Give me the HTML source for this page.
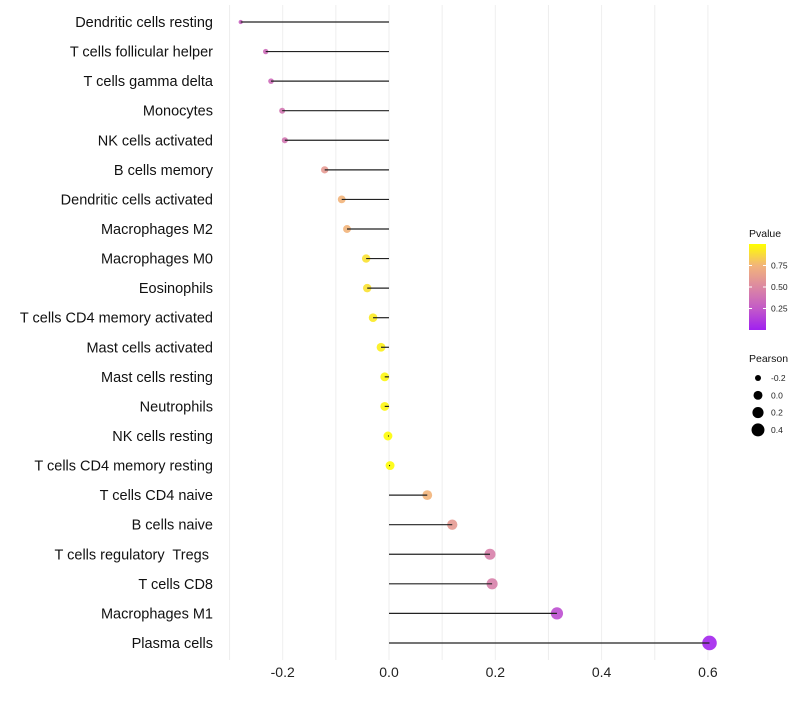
<!DOCTYPE html>
<html><head><meta charset="utf-8"><style>
body{margin:0;background:#fff;font-family:"Liberation Sans",sans-serif}
svg text{font-family:"Liberation Sans",sans-serif;white-space:pre}
</style></head><body>
<svg id="c" width="800" height="700">
<defs><linearGradient id="pg" x1="0" y1="1" x2="0" y2="0">
<stop offset="0" stop-color="#A020F0"/><stop offset="0.25" stop-color="#C35AC8"/><stop offset="0.5" stop-color="#DC88A2"/><stop offset="0.75" stop-color="#F2B47A"/><stop offset="1" stop-color="#FFFF00"/></linearGradient></defs>
</svg>
<script>
const categories=["Dendritic cells resting","T cells follicular helper","T cells gamma delta","Monocytes","NK cells activated","B cells memory","Dendritic cells activated","Macrophages M2","Macrophages M0","Eosinophils","T cells CD4 memory activated","Mast cells activated","Mast cells resting","Neutrophils","NK cells resting","T cells CD4 memory resting","T cells CD4 naive","B cells naive","T cells regulatory  Tregs ","T cells CD8","Macrophages M1","Plasma cells"];
const pearson=[-0.279,-0.232,-0.222,-0.201,-0.196,-0.121,-0.089,-0.079,-0.043,-0.041,-0.030,-0.015,-0.008,-0.008,-0.002,0.002,0.072,0.119,0.190,0.194,0.316,0.603];
const pvalue=[0.3,0.35,0.35,0.4,0.4,0.6,0.75,0.75,0.9,0.9,0.93,0.95,0.97,0.97,0.99,0.99,0.75,0.6,0.45,0.45,0.2,0.02];
const xTicks=[-0.2,0,0.2,0.4,0.6];
const xTickLabels=["-0.2","0.0","0.2","0.4","0.6"];
const gridVals=[-0.3,-0.2,-0.1,0,0.1,0.2,0.3,0.4,0.5,0.6];
const legendP=[0.25,0.5,0.75];
const legendPearson=[-0.2,0,0.2,0.4];
const svg=document.getElementById('c');const NS="http://www.w3.org/2000/svg";
function mk(t,a,p){const e=document.createElementNS(NS,t);for(const k in a)e.setAttribute(k,a[k]);(p||svg).appendChild(e);return e;}
const X=v=>389+v*531.5;
const Y=i=>22+i*29.57;
const R=v=>Math.sqrt(Math.max(2,20+55*v));
const stops=[[0,[160,32,240]],[0.25,[195,90,200]],[0.5,[220,136,162]],[0.75,[242,180,122]],[1,[255,255,0]]];
function col(p){for(let i=1;i<stops.length;i++){if(p<=stops[i][0]){const a=stops[i-1],b=stops[i],t=(p-a[0])/(b[0]-a[0]);return 'rgb('+a[1].map((c,j)=>Math.round(c+(b[1][j]-c)*t)).join(',')+')';}}return 'rgb(255,255,0)';}
gridVals.forEach(v=>{const g=mk('line',{x1:X(v),x2:X(v),y1:5,y2:660,stroke:'#eeeeee','stroke-width':1});

});
xTicks.forEach((v,i)=>{const t=mk('text',{x:X(v),y:677,'text-anchor':'middle','font-size':14,fill:'#222'});t.textContent=xTickLabels[i];

});
categories.forEach((c,i)=>{
const t=mk('text',{x:213,y:Y(i)+5,'text-anchor':'end','font-size':14.5,fill:'#111'});t.textContent=c;


const p=mk('circle',{cx:X(pearson[i]),cy:Y(i),r:R(pearson[i]),fill:col(pvalue[i]),'fill-opacity':0.9});


const s=mk('line',{x1:X(0),x2:X(pearson[i]),y1:Y(i),y2:Y(i),stroke:'#222','stroke-width':1.2});


});
const lt=mk('text',{x:749,y:237,'font-size':10.5,fill:'#111'});lt.textContent='Pvalue';


const bar=mk('rect',{x:749,y:244,width:17,height:86,fill:'url(#pg)'});


legendP.forEach(v=>{const y=330-v*86;
mk('line',{x1:749,x2:752,y1:y,y2:y,stroke:'#fff'});mk('line',{x1:763,x2:766,y1:y,y2:y,stroke:'#fff'});
const t=mk('text',{x:771,y:y+3,'font-size':8.5,fill:'#222'});t.textContent=v.toFixed(2);

});
const lt2=mk('text',{x:749,y:362,'font-size':10.5,fill:'#111'});lt2.textContent='Pearson';


legendPearson.forEach((v,i)=>{const y=378+i*17.3;
const c=mk('circle',{cx:758,cy:y,r:R(v),fill:'#000'});


const t=mk('text',{x:771,y:y+3,'font-size':8.5,fill:'#222'});t.textContent=v.toFixed(1);

});
</script>
</body></html>
